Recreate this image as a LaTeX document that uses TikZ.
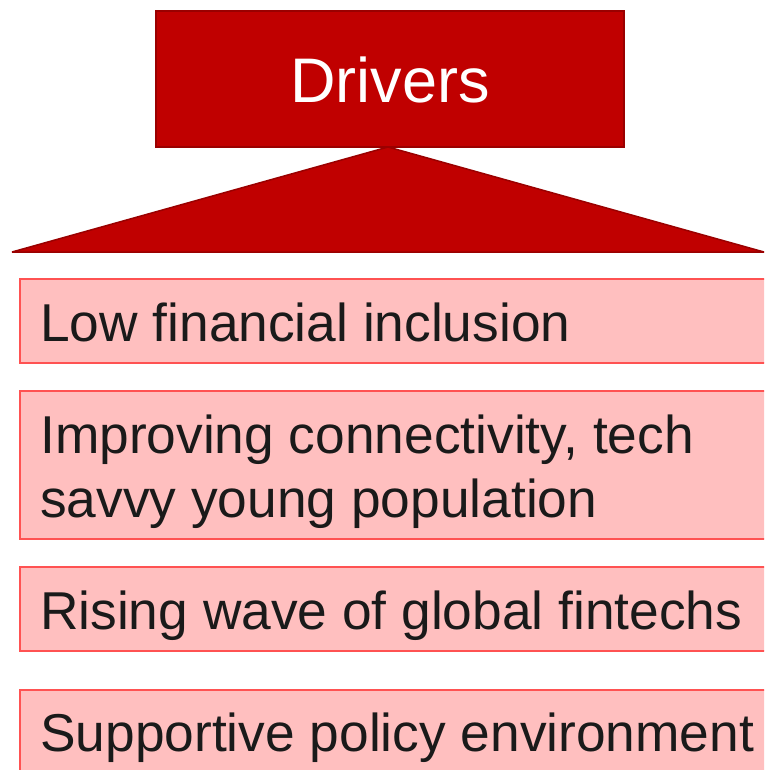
\documentclass[tikz,border=0pt]{standalone}
\usepackage{fontspec}
\setmainfont{Liberation Sans}
\definecolor{darkred}{HTML}{C00000}
\definecolor{darkredline}{HTML}{9A0000}
\definecolor{pinkfill}{HTML}{FFBFBF}
\definecolor{pinkline}{HTML}{FF5252}
\definecolor{textblack}{HTML}{1A1A1A}
\begin{document}
\begin{tikzpicture}[x=1pt,y=-1pt,
  headbox/.style={draw=darkredline, line width=1.5pt, fill=darkred, inner sep=0pt},
  itembox/.style={draw=pinkline, line width=2pt, fill=pinkfill, inner sep=0pt},
  itemtext/.style={anchor=base west, inner sep=0pt, text=textblack, font=\fontsize{53.3}{64}\selectfont, align=left},
  headtext/.style={inner sep=0pt, text=white, font=\fontsize{63}{70}\selectfont}
]
\useasboundingbox (0,0) rectangle (764,770);
\clip (0,0) rectangle (764,770);
\fill[white] (0,0) rectangle (764,770);
% head
\draw[headbox] (156,11) rectangle (624,147);
\node[headtext, anchor=base] (head) at (390,103) {Drivers};
% triangle
\coordinate (apex) at (388,147);
\coordinate (bl) at (12,252);
\coordinate (br) at (764,252);
\draw[darkredline, fill=darkred, line width=1.5pt, line join=bevel] (apex) -- (bl) -- (br) -- cycle;
% items
\node[itembox, anchor=north west, minimum width=800pt, minimum height=84pt] (b1) at (19,278) {};
\node[itemtext] (t1) at (40,341) {Low financial inclusion};
\node[itembox, anchor=north west, minimum width=800pt, minimum height=148pt] (b2) at (19,390) {};
\node[itemtext] (t2a) at (40,453) {Improving connectivity, tech};
\node[itemtext] (t2b) at (40,517) {savvy young population};
\node[itembox, anchor=north west, minimum width=800pt, minimum height=84pt] (b3) at (19,566) {};
\node[itemtext] (t3) at (40,629) {Rising wave of global fintechs};
\node[itembox, anchor=north west, minimum width=800pt, minimum height=120pt] (b4) at (19,689) {};
\node[itemtext] (t4) at (40,751) {Supportive policy environment};
\end{tikzpicture}
\end{document}
